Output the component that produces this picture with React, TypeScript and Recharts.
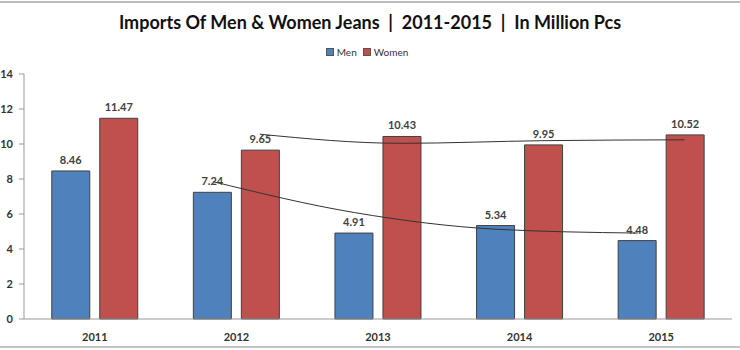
import React from 'react';
import { ComposedChart, Bar, Line, XAxis, YAxis, LabelList } from 'recharts';

const years = ['2011', '2012', '2013', '2014', '2015'];
const men = [8.46, 7.24, 4.91, 5.34, 4.48];
const women = [11.47, 9.65, 10.43, 9.95, 10.52];
// 2-period moving average trend lines as drawn in the picture
const menTrend = [null, 7.85, 6.08, 5.13, 4.91];
const womenTrend = [null, 10.56, 10.04, 10.19, 10.24];
const yTicks = [0, 2, 4, 6, 8, 10, 12, 14];

const BLUE = '#4F81BD';
const RED = '#C0504D';
const FONT = 'Lato, "Open Sans", sans-serif';
// trend points sit on the bar centres, not the category centre
const BAR_SHIFT = 0.165;

const data = years.map((year, i) => ({ year, men: men[i], women: women[i] }));
const menLine = years.map((_, i) => ({ x: i - BAR_SHIFT, v: menTrend[i] }));
const womenLine = years.map((_, i) => ({ x: i + BAR_SHIFT, v: womenTrend[i] }));

const labelStyle = { fontSize: 11, fontWeight: 700, fill: '#404040', fontFamily: FONT };

const LegendBox: React.FC<{ color: string; text: string }> = ({ color, text }) => (
  <span style={{ display: 'inline-flex', alignItems: 'center', marginRight: 6 }}>
    <span style={{ width: 6, height: 6, background: color, border: '1px solid #555', marginRight: 3 }} />
    <span style={{ fontSize: 10, color: '#333' }}>{text}</span>
  </span>
);

export default function App() {
  return (
    <div style={{ position: 'absolute', left: 0, top: 0, width: 740, height: 350, background: '#fff', fontFamily: FONT }}>
      <div style={{ position: 'absolute', left: 0, top: 1, width: 740, height: 0, borderTop: '2px solid #bcbcbc' }} />
      <div style={{ position: 'absolute', left: 0, top: 346, width: 740, height: 0, borderTop: '2px solid #c4c4c4' }} />
      <div style={{ position: 'absolute', left: 0, top: 11, width: 740, textAlign: 'center', fontSize: 18, fontWeight: 700, color: '#111', whiteSpace: 'pre' }}>
        {'Imports Of Men & Women Jeans  |  2011-2015  |  In Million Pcs'}
      </div>
      <div style={{ position: 'absolute', left: 0, top: 46, width: 740, display: 'flex', justifyContent: 'center' }}>
        <LegendBox color={BLUE} text="Men" />
        <LegendBox color={RED} text="Women" />
      </div>
      <ComposedChart
        width={740}
        height={350}
        data={data}
        margin={{ top: 74, right: 8, left: 0, bottom: 1 }}
        barCategoryGap="19.6%"
        barGap={10}
      >
        <XAxis
          dataKey="year"
          axisLine={{ stroke: '#999' }}
          tickLine={false}
          height={30}
          tick={{ fontSize: 11, fontWeight: 700, fill: '#333', fontFamily: FONT }}
          tickMargin={8}
        />
        <XAxis xAxisId="trend" type="number" dataKey="x" domain={[-0.5, 4.5]} hide />
        <YAxis
          width={24}
          domain={[0, 14]}
          ticks={yTicks}
          axisLine={{ stroke: '#999' }}
          tickLine={{ stroke: '#999' }}
          tickSize={5}
          tickMargin={6}
          tick={{ fontSize: 11, fontWeight: 700, fill: '#333', fontFamily: FONT }}
        />
        <Bar dataKey="men" fill={BLUE} stroke="#404040" strokeWidth={1} isAnimationActive={false}>
          <LabelList dataKey="men" position="top" offset={7} style={labelStyle} />
        </Bar>
        <Bar dataKey="women" fill={RED} stroke="#404040" strokeWidth={1} isAnimationActive={false}>
          <LabelList dataKey="women" position="top" offset={7} style={labelStyle} />
        </Bar>
        <Line
          xAxisId="trend"
          data={menLine}
          dataKey="v"
          type="monotone"
          stroke="#333"
          strokeWidth={1}
          dot={false}
          activeDot={false}
          isAnimationActive={false}
        />
        <Line
          xAxisId="trend"
          data={womenLine}
          dataKey="v"
          type="monotone"
          stroke="#333"
          strokeWidth={1}
          dot={false}
          activeDot={false}
          isAnimationActive={false}
        />
      </ComposedChart>
    </div>
  );
}
